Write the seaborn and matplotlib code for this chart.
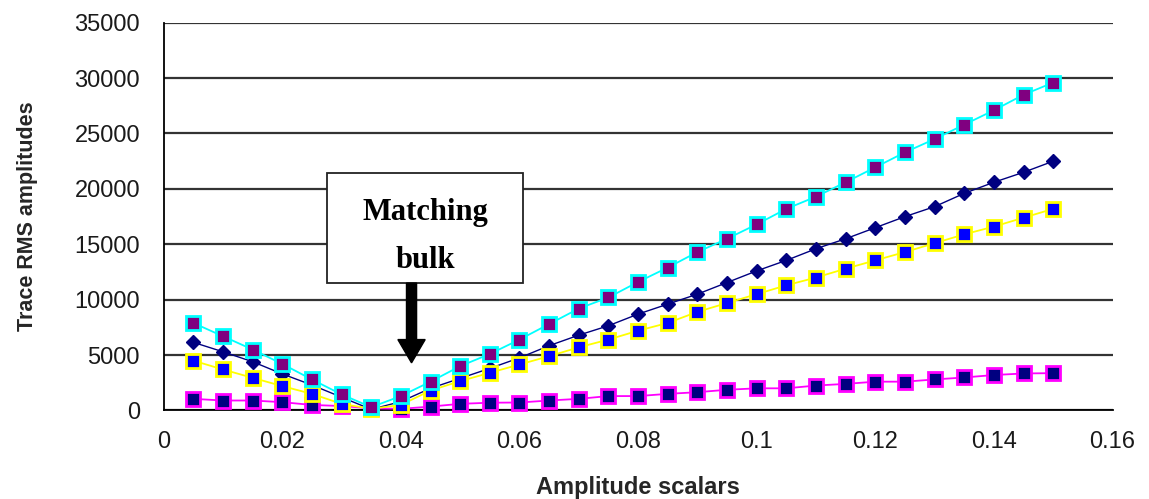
import numpy as np
import pandas as pd
import matplotlib
matplotlib.use("Agg")
import matplotlib.pyplot as plt
import seaborn as sns
from matplotlib.patches import Rectangle, FancyArrow

# ---- data ----
amplitude_scalars = [0.005, 0.010, 0.015, 0.020, 0.025, 0.030, 0.035, 0.040, 0.045, 0.050,
                     0.055, 0.060, 0.065, 0.070, 0.075, 0.080, 0.085, 0.090, 0.095, 0.100,
                     0.105, 0.110, 0.115, 0.120, 0.125, 0.130, 0.135, 0.140, 0.145, 0.150]

series_diamond = [6150, 5300, 4400, 3300, 2300, 1200, 100, 800, 2000, 2900,
                  3800, 4750, 5850, 6800, 7650, 8700, 9600, 10500, 11550, 12600,
                  13550, 14600, 15500, 16500, 17500, 18400, 19600, 20600, 21500, 22500]

series_magenta = [1050, 900, 900, 750, 500, 400, 200, 150, 350, 600,
                  700, 720, 900, 1050, 1300, 1300, 1500, 1650, 1870, 2000,
                  2000, 2250, 2400, 2600, 2600, 2800, 2980, 3200, 3340, 3370]

series_yellow = [4500, 3700, 2950, 2200, 1500, 600, 150, 500, 1800, 2650,
                 3400, 4150, 4900, 5700, 6400, 7200, 7900, 8900, 9700, 10500,
                 11300, 12000, 12800, 13550, 14300, 15100, 15900, 16600, 17400, 18200]

series_cyan = [7900, 6700, 5500, 4200, 2800, 1450, 300, 1300, 2600, 4000,
               5100, 6400, 7800, 9200, 10200, 11600, 12900, 14300, 15500, 16800,
               18200, 19300, 20600, 21950, 23300, 24500, 25800, 27100, 28500, 29600]

x_ticks = [0, 0.02, 0.04, 0.06, 0.08, 0.1, 0.12, 0.14, 0.16]
x_tick_labels = ["0", "0.02", "0.04", "0.06", "0.08", "0.1", "0.12", "0.14", "0.16"]
y_ticks = [0, 5000, 10000, 15000, 20000, 25000, 30000, 35000]
y_tick_labels = ["0", "5000", "10000", "15000", "20000", "25000", "30000", "35000"]

x_label = "Amplitude scalars"
y_label = "Trace RMS amplitudes"
annotation_lines = ["Matching", "bulk"]

# ---- style ----
sns.set_style("white")
plt.rcParams["font.family"] = ["Liberation Sans", "DejaVu Sans"]

fig = plt.figure(figsize=(11.49, 4.99), dpi=100)
ax = fig.add_axes([0.1424, 0.1774, 0.8259, 0.7771])

styles = [
    (series_diamond, dict(color="#000080", marker="D", markersize=7.5,
                          markerfacecolor="#000080", markeredgecolor="#000080",
                          markeredgewidth=1.0, linewidth=1.0)),
    (series_magenta, dict(color="#FF00FF", marker="s", markersize=9.5,
                          markerfacecolor="#000080", markeredgecolor="#FF00FF",
                          markeredgewidth=2.0, linewidth=1.3)),
    (series_yellow, dict(color="#FFFF00", marker="s", markersize=9.5,
                         markerfacecolor="#0000FF", markeredgecolor="#FFFF00",
                         markeredgewidth=2.0, linewidth=1.3)),
    (series_cyan, dict(color="#00FFFF", marker="s", markersize=9.5,
                       markerfacecolor="#800080", markeredgecolor="#00FFFF",
                       markeredgewidth=2.0, linewidth=1.3)),
]

for i, (vals, kw) in enumerate(styles):
    df = pd.DataFrame({"x": amplitude_scalars, "y": vals})
    sns.lineplot(data=df, x="x", y="y", ax=ax, errorbar=None, clip_on=False,
                 zorder=3 + i, **kw)

ax.set_xlim(0, 0.16)
ax.set_ylim(0, 35000)
ax.set_xticks(x_ticks)
ax.set_xticklabels(x_tick_labels)
ax.set_yticks(y_ticks)
ax.set_yticklabels(y_tick_labels)

ax.grid(axis="y", color="#333333", linewidth=1.6)
ax.grid(axis="x", visible=False)
ax.set_axisbelow(True)

for side in ["top", "right"]:
    ax.spines[side].set_visible(False)
for side in ["left", "bottom"]:
    ax.spines[side].set_color("black")
    ax.spines[side].set_linewidth(1.3)

ax.tick_params(axis="both", direction="out", length=6, width=1.2, color="black",
               labelsize=17, labelcolor="#1a1a1a")
ax.tick_params(axis="y", pad=11)
ax.tick_params(axis="x", pad=9)

ax.set_xlabel(x_label, fontsize=17, fontweight="bold", labelpad=16)
ax.set_ylabel(y_label, fontsize=15.5, fontweight="bold", labelpad=26)

# annotation box with arrow
ax.add_patch(Rectangle((0.0276, 11500), 0.0330, 9900, facecolor="white",
                       edgecolor="#222222", linewidth=1.3, zorder=10))
ax.text(0.0442, 17900, annotation_lines[0], ha="center", va="center",
        fontsize=22, fontweight="bold", color="black",
        family=["Liberation Serif", "DejaVu Serif"], zorder=11)
ax.text(0.0442, 13500, annotation_lines[1], ha="center", va="center",
        fontsize=22, fontweight="bold", color="black",
        family=["Liberation Serif", "DejaVu Serif"], zorder=11)
ax.add_patch(FancyArrow(0.0418, 11500, 0, -7200, width=0.0017, head_width=0.0046,
                        head_length=2100, length_includes_head=True,
                        color="black", zorder=10))

fig.savefig("out.png", dpi=100)
